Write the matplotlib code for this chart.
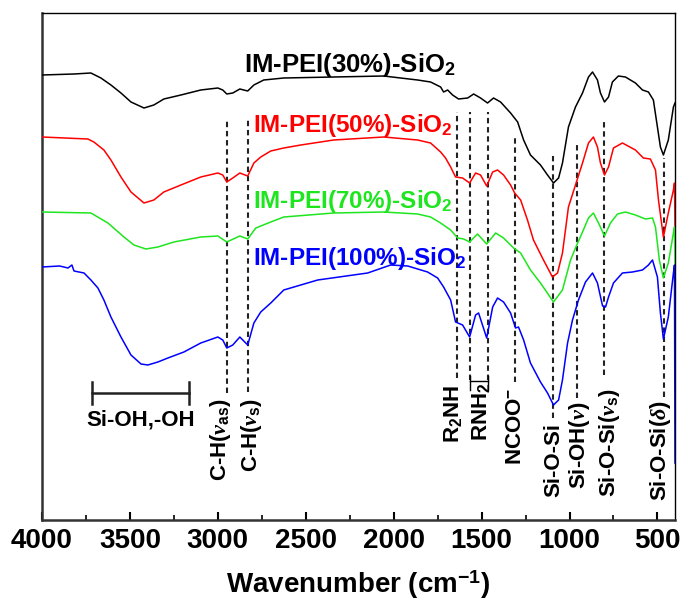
import matplotlib
matplotlib.use("Agg")
import matplotlib.pyplot as plt
from matplotlib.ticker import MultipleLocator

plt.rcParams['font.family'] = ['Liberation Sans', 'DejaVu Sans']
plt.rcParams['font.weight'] = 'bold'
plt.rcParams['mathtext.fontset'] = 'custom'
plt.rcParams['mathtext.rm'] = 'Liberation Sans:bold'
plt.rcParams['mathtext.bf'] = 'Liberation Sans:bold'
plt.rcParams['mathtext.it'] = 'Liberation Serif:italic:bold'

# ---------------- data (wavenumber cm-1, transmittance a.u. incl. vertical offsets) ----------------
wn_30 = [4000, 3818, 3722, 3665, 3608, 3551, 3494, 3420, 3364, 3307, 3210, 3097, 3000, 2972,
         2949, 2915, 2875, 2830, 2795, 2739, 2625, 2341, 2057, 1864, 1790, 1733, 1716, 1693,
         1665, 1631, 1579, 1545, 1506, 1466, 1432, 1392, 1335, 1295, 1261, 1222, 1165, 1125,
         1091, 1062, 1040, 1006, 966, 926, 892, 869, 841, 824, 801, 778, 756, 722, 682, 625,
         585, 551, 523, 500, 483, 466, 438, 409, 400]
t_30 = [445, 446, 447, 442, 435, 427, 418, 412, 415, 421, 425, 430, 432, 430,
        426, 427, 431, 429, 435, 440, 442, 443, 444, 440, 438, 433, 428, 430,
        425, 421, 422, 426, 422, 417, 422, 418, 407, 398, 380, 365, 355, 345,
        337, 342, 357, 393, 413, 427, 443, 448, 440, 427, 418, 423, 438, 444, 443, 437,
        430, 428, 420, 393, 373, 365, 380, 413, 417]

wn_50 = [4000, 3739, 3705, 3648, 3608, 3551, 3494, 3420, 3364, 3307, 3210, 3097, 3000, 2972,
         2949, 2915, 2875, 2830, 2795, 2756, 2699, 2625, 2528, 2341, 2057, 1864, 1790, 1733,
         1705, 1676, 1648, 1608, 1568, 1534, 1506, 1471, 1437, 1409, 1375, 1335, 1312, 1278,
         1239, 1205, 1148, 1097, 1068, 1040, 1006, 966, 926, 892, 864, 841, 824, 801, 778,
         750, 699, 625, 580, 540, 511, 494, 466, 438, 409, 403, 400]
t_50 = [383, 381, 378, 370, 360, 343, 328, 317, 320, 328, 335, 343, 347, 345,
        338, 342, 347, 344, 357, 363, 369, 372, 375, 380, 383, 380, 377, 368,
        362, 353, 343, 342, 337, 347, 345, 334, 348, 350, 345, 335, 327, 320,
        300, 280, 260, 243, 247, 267, 313, 335, 357, 377, 383, 373, 357, 345, 353,
        372, 377, 370, 362, 361, 350, 320, 283, 307, 330, 337, 293]

wn_70 = [4000, 3722, 3625, 3534, 3477, 3409, 3341, 3250, 3097, 3000, 2949, 2875, 2830, 2784,
         2699, 2625, 2341, 2057, 1864, 1790, 1733, 1676, 1636, 1602, 1568, 1523, 1471, 1420,
         1375, 1318, 1278, 1222, 1165, 1091, 1040, 994, 966, 926, 892, 864, 835, 801, 767,
         727, 682, 625, 568, 528, 511, 489, 466, 438, 409, 403, 400]
t_70 = [308, 307, 297, 283, 275, 271, 273, 278, 283, 284, 278, 284, 281, 292,
        298, 303, 307, 308, 306, 303, 297, 290, 282, 281, 278, 286, 276, 287,
        282, 272, 267, 250, 237, 218, 230, 260, 272, 288, 302, 307, 297, 284, 297,
        306, 308, 305, 301, 302, 293, 260, 242, 257, 287, 293, 253]

wn_100 = [4000, 3900, 3852, 3830, 3818, 3761, 3722, 3682, 3648, 3608, 3551, 3494, 3437, 3398,
          3341, 3284, 3193, 3097, 3000, 2972, 2949, 2915, 2875, 2830, 2795, 2756, 2699, 2625,
          2432, 2148, 2017, 1920, 1807, 1750, 1716, 1676, 1648, 1608, 1568, 1534, 1517, 1471,
          1437, 1409, 1375, 1335, 1307, 1290, 1261, 1222, 1165, 1125, 1091, 1062, 1040, 1011,
          983, 949, 909, 869, 841, 812, 795, 778, 750, 699, 642, 585, 551, 528, 500, 483, 466,
          438, 409, 403, 400]
t_100 = [253, 254, 252, 255, 249, 247, 240, 232, 220, 203, 183, 165, 156, 155,
         158, 162, 168, 177, 183, 180, 172, 175, 183, 175, 197, 208, 217, 230,
         240, 247, 255, 254, 248, 242, 233, 220, 198, 195, 183, 205, 207, 182,
         213, 222, 218, 207, 192, 193, 180, 157, 138, 127, 115, 120, 140, 177,
         200, 220, 238, 247, 237, 214, 213, 223, 237, 247, 248, 250, 255, 260, 243, 207, 181,
         203, 247, 255, 57]

series_names = [r'IM-PEI(30%)-SiO$_2$', r'IM-PEI(50%)-SiO$_2$',
                r'IM-PEI(70%)-SiO$_2$', r'IM-PEI(100%)-SiO$_2$']
series_colors = ['black', '#ff0000', '#1ee61e', '#0000ff']
name_wn = [2852, 2801, 2801, 2801]
name_y = [448, 388, 312, 255]
name_size = [18.5, 17.5, 17.5, 17.5]

# band markers: position, dashed line top, dashed line bottom
band_wn = [2949, 2830, 1642, 1568, 1466, 1312, 1091, 960, 801, 460]
band_top = [402, 402, 408, 408, 408, 383, 364, 377, 398, 362]
band_bot = [127, 128, 142, 140, 140, 138, 102, 122, 145, 123]

band_labels = [r'C-H$(\nu_{\mathrm{as}})$', r'C-H$(\nu_{\mathrm{s}})$', r'R$_2$NH', r'RNH$_2$',
               r'NCOO$^{-}$', 'Si-O-Si', r'Si-OH$(\nu)$', r'Si-O-Si$(\nu_{\mathrm{s}})$',
               r'Si-O-Si$(\delta)$']
label_wn = [2983, 2807, 1665, 1506, 1307, 1091, 943, 773, 483]
label_top = [122, 122, 135, 137, 132, 97, 118, 132, 120]

oh_range = [3716, 3165]
oh_y = 127
rnh2_range = [1568, 1466]
rnh2_y = 139

# ---------------- figure ----------------
fig = plt.figure(figsize=(6.83, 6.11), dpi=100)
ax = fig.add_axes([42 / 683, 1 - 520 / 611, (675 - 42) / 683, (520 - 13) / 611])

for wn, t, c in zip([wn_30, wn_50, wn_70, wn_100], [t_30, t_50, t_70, t_100], series_colors):
    ax.plot(wn, t, color=c, lw=1.1, zorder=3, solid_joinstyle='round')

for name, c, xw, yy, fs in zip(series_names, series_colors, name_wn, name_y, name_size):
    ax.text(xw, yy, name, color=c, fontsize=fs, fontweight='bold', ha='left', va='baseline')

for xw, yt, yb in zip(band_wn, band_top, band_bot):
    ax.plot([xw, xw], [yb, yt], color='#222222', lw=1.5, ls=(0, (2.6, 1.8)), zorder=2)

for lab, xw, yt in zip(band_labels, label_wn, label_top):
    ax.text(xw, yt, lab, rotation=90, ha='center', va='top', fontsize=16, fontweight='bold')

# Si-OH,-OH bracket
ax.plot(oh_range, [oh_y, oh_y], color='#222222', lw=1.8)
for xw in oh_range:
    ax.plot([xw, xw], [oh_y - 11, oh_y + 11], color='#222222', lw=1.8)
ax.text(sum(oh_range) / 2, 100, 'Si-OH,-OH', ha='center', va='center', fontsize=16,
        fontweight='bold')

# RNH2 bracket
ax.plot(rnh2_range, [rnh2_y, rnh2_y], color='black', lw=1.0)
for xw in rnh2_range:
    ax.plot([xw, xw], [rnh2_y - 9, rnh2_y + 5], color='black', lw=1.0)

ax.set_xlim(4000, 400)
ax.set_ylim(0, 507)
ax.xaxis.set_major_locator(MultipleLocator(500))
ax.xaxis.set_minor_locator(MultipleLocator(250))
ax.set_yticks([])
ax.tick_params(axis='x', which='major', direction='in', length=6, width=1.5, labelsize=20,
               pad=6)
ax.tick_params(axis='x', which='minor', direction='in', length=3.5, width=1.2)
for lab in ax.get_xticklabels():
    lab.set_fontweight('bold')
for s in ['left', 'bottom']:
    ax.spines[s].set_linewidth(1.8)
    ax.spines[s].set_color('#333333')
for s in ['top', 'right']:
    ax.spines[s].set_linewidth(1.0)
    ax.spines[s].set_color('black')

ax.set_xlabel(r'Wavenumber (cm$^{\mathbf{-1}}$)', fontsize=20, fontweight='bold', labelpad=10)

fig.savefig('out.png', dpi=100)
